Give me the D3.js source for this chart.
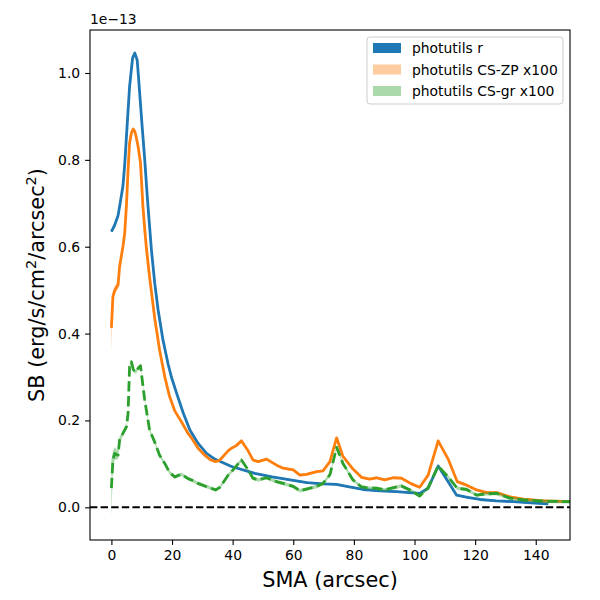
<!DOCTYPE html>
<html>
<head>
<meta charset="utf-8">
<script src="https://cdn.jsdelivr.net/npm/d3@7/dist/d3.min.js"></script>
<style>
  body { margin: 0; background: #fff; }
  svg text { font-family: "DejaVu Sans", sans-serif; fill: #000; }
</style>
</head>
<body>
<div id="chart"></div>
<script>
// photutils r profile (units of 1e-13)
const smaR = [0, 1.1, 2.2, 3.0, 3.8, 4.4, 5.1, 6.0, 7.0, 7.7, 8.5, 9.0, 10.0, 11.0, 11.9, 13.2, 14.3, 15.4, 17.0, 18.7,
  19.8, 21.5, 23.7, 25.9, 28.6, 31.4, 34.1, 39.6, 47.3, 53.0, 59.0, 64.5, 69.8, 74.2, 78.5, 83.0, 88.5, 94.0,
  101.7, 104.5, 107.8, 111.0, 113.9, 117.5, 121.6, 127.0, 132.6, 138.5, 144.1];
const sbR = [0.635, 0.650, 0.672, 0.705, 0.739, 0.790, 0.869, 0.969, 1.035, 1.046, 1.030, 0.985, 0.890, 0.800, 0.709, 0.593, 0.516, 0.455, 0.386, 0.330,
  0.300, 0.263, 0.217, 0.178, 0.147, 0.124, 0.111, 0.094, 0.078, 0.070, 0.063, 0.057, 0.054, 0.053, 0.047, 0.041, 0.038, 0.036,
  0.032, 0.044, 0.095, 0.060, 0.028, 0.023, 0.018, 0.015, 0.013, 0.010, 0.008];
const errR = smaR.map(() => 0.002);

// CS profiles x100
const smaCS = [0, 0.5, 1.1, 2.2, 2.7, 3.8, 4.4, 5.0, 5.5, 6.0, 6.6, 7.2, 7.7, 8.2, 8.8, 9.6, 10.4, 11.0, 11.5, 12.6,
  14.3, 15.9, 17.6, 19.2, 20.9, 23.1, 25.3, 26.4, 28.6, 30.8, 32.5, 34.4, 35.8, 38.5, 39.6, 41.2, 42.9,
  45.1, 46.7, 48.4, 51.2, 54.5, 56.7, 60.0, 62.2, 64.4, 67.7, 69.8, 72.1, 74.3, 76.4, 79.7, 82.5, 85.2, 87.4, 90.2, 92.9,
  95.7, 99.0, 101.7, 104.5, 107.8, 111.1, 114.1, 117.2, 120.5, 123.8, 127.1, 131.5, 135.8, 142.4, 151.3];
const sbZP = [0.413, 0.485, 0.500, 0.512, 0.554, 0.600, 0.632, 0.700, 0.777, 0.839, 0.862, 0.871, 0.866, 0.852, 0.831, 0.793, 0.693, 0.640, 0.600, 0.530,
  0.435, 0.362, 0.301, 0.255, 0.222, 0.197, 0.170, 0.160, 0.136, 0.120, 0.110, 0.105, 0.109, 0.130, 0.136, 0.142, 0.153,
  0.130, 0.109, 0.105, 0.111, 0.097, 0.090, 0.086, 0.074, 0.076, 0.082, 0.084, 0.105, 0.160, 0.117, 0.088, 0.069, 0.065, 0.068, 0.063, 0.068,
  0.067, 0.054, 0.046, 0.074, 0.153, 0.111, 0.059, 0.051, 0.040, 0.034, 0.034, 0.024, 0.019, 0.015, 0.013];
const errZP = [0.056, 0.012, 0.010, 0.008, 0.006, 0.005, 0.004, 0.004, 0.003, 0.003, 0.003, 0.003, 0.003, 0.003, 0.003, 0.003, 0.003, 0.003, 0.003, 0.003,
  0.003, 0.003, 0.003, 0.003, 0.003, 0.003, 0.003, 0.003, 0.003, 0.003, 0.003, 0.003, 0.003, 0.003, 0.003, 0.003, 0.003,
  0.003, 0.003, 0.003, 0.003, 0.003, 0.003, 0.003, 0.003, 0.003, 0.003, 0.003, 0.003, 0.003, 0.003, 0.003, 0.003, 0.003, 0.003, 0.003, 0.003,
  0.003, 0.003, 0.003, 0.003, 0.003, 0.003, 0.003, 0.003, 0.003, 0.003, 0.003, 0.003, 0.003, 0.003, 0.003];
const sbGR = [0.044, 0.109, 0.124, 0.120, 0.155, 0.170, 0.178, 0.186, 0.217, 0.324, 0.335, 0.318, 0.312, 0.312, 0.320, 0.326, 0.280, 0.247, 0.225, 0.178,
  0.150, 0.120, 0.101, 0.080, 0.070, 0.076, 0.066, 0.063, 0.055, 0.049, 0.045, 0.040, 0.046, 0.074, 0.082, 0.095, 0.109,
  0.086, 0.067, 0.063, 0.068, 0.059, 0.055, 0.048, 0.038, 0.042, 0.048, 0.055, 0.075, 0.138, 0.101, 0.063, 0.047, 0.044, 0.044, 0.040, 0.045,
  0.049, 0.038, 0.026, 0.045, 0.095, 0.070, 0.044, 0.041, 0.028, 0.031, 0.032, 0.021, 0.017, 0.014, 0.013];
const errGR = [0.066, 0.020, 0.014, 0.010, 0.008, 0.006, 0.005, 0.005, 0.004, 0.004, 0.004, 0.004, 0.004, 0.004, 0.004, 0.004, 0.004, 0.004, 0.004, 0.004,
  0.004, 0.004, 0.004, 0.004, 0.004, 0.004, 0.004, 0.004, 0.004, 0.004, 0.004, 0.004, 0.004, 0.004, 0.004, 0.004, 0.004,
  0.004, 0.004, 0.004, 0.004, 0.004, 0.004, 0.004, 0.004, 0.004, 0.004, 0.004, 0.004, 0.004, 0.004, 0.004, 0.004, 0.004, 0.004, 0.004, 0.004,
  0.004, 0.004, 0.004, 0.004, 0.004, 0.004, 0.004, 0.004, 0.004, 0.004, 0.004, 0.004, 0.004, 0.004, 0.004];

const xTicks = [0, 20, 40, 60, 80, 100, 120, 140];
const yTicks = [0, 0.2, 0.4, 0.6, 0.8, 1.0];
const legendLabels = ['photutils r', 'photutils CS-ZP x100', 'photutils CS-gr x100'];

const width = 600, height = 600;
const margin = { top: 30, right: 30, bottom: 60, left: 90 };

const svg = d3.select('#chart').append('svg')
  .attr('width', width)
  .attr('height', height);

const x = d3.scaleLinear().domain([-7.06, 151.3]).range([margin.left, width - margin.right]);
const y = d3.scaleLinear().domain([-0.0753, 1.099]).range([height - margin.bottom, margin.top]);

svg.append('clipPath').attr('id', 'clip')
  .append('rect')
  .attr('x', margin.left).attr('y', margin.top)
  .attr('width', width - margin.left - margin.right)
  .attr('height', height - margin.top - margin.bottom);

const plot = svg.append('g').attr('clip-path', 'url(#clip)');

const series = [
  { sma: smaR, val: sbR, err: errR, color: '#1f77b4', bandOpacity: 1, dash: null },
  { sma: smaCS, val: sbZP, err: errZP, color: '#ff7f0e', bandOpacity: 0.4, dash: null },
  { sma: smaCS, val: sbGR, err: errGR, color: '#2ca02c', bandOpacity: 0.4, dash: '10.4,4.5' },
];

const area = d3.area()
  .x(d => x(d[0]))
  .y0(d => y(d[1] - d[2]))
  .y1(d => y(d[1] + d[2]));

const line = d3.line()
  .x(d => x(d[0]))
  .y(d => y(d[1]));

series.forEach(s => {
  const pts = s.sma.map((v, i) => [v, s.val[i], s.err[i]]);
  plot.append('path')
    .attr('d', area(pts))
    .attr('fill', s.color)
    .attr('fill-opacity', s.bandOpacity)
    .attr('stroke', 'none');
  plot.append('path')
    .attr('d', line(pts))
    .attr('fill', 'none')
    .attr('stroke', s.color)
    .attr('stroke-width', 2.8)
    .attr('stroke-linejoin', 'round')
    .attr('stroke-dasharray', s.dash);
});

// zero line
plot.append('line')
  .attr('x1', x(-7.06)).attr('x2', x(151.3))
  .attr('y1', y(0)).attr('y2', y(0))
  .attr('stroke', '#000')
  .attr('stroke-width', 2)
  .attr('stroke-dasharray', '7.4,3.2');

// axes
const xAxis = svg.append('g')
  .attr('transform', `translate(0,${height - margin.bottom})`)
  .call(d3.axisBottom(x).tickValues(xTicks).tickSize(4.9).tickPadding(4.9).tickFormat(d3.format('d')));
const yAxis = svg.append('g')
  .attr('transform', `translate(${margin.left},0)`)
  .call(d3.axisLeft(y).tickValues(yTicks).tickSize(4.9).tickPadding(4.9).tickFormat(d3.format('.1f')));

[xAxis, yAxis].forEach(a => {
  a.selectAll('.domain').remove();
  a.selectAll('line').attr('stroke', '#000').attr('stroke-width', 1.1);
  a.selectAll('text').style('font-size', '13.9px').style('font-family', '"DejaVu Sans", sans-serif');
});

svg.append('rect')
  .attr('x', margin.left).attr('y', margin.top)
  .attr('width', width - margin.left - margin.right)
  .attr('height', height - margin.top - margin.bottom)
  .attr('fill', 'none')
  .attr('stroke', '#000')
  .attr('stroke-width', 1.1);

// offset text
svg.append('text')
  .attr('x', margin.left).attr('y', margin.top - 6)
  .style('font-size', '13.9px')
  .text('1e\u221213');

// axis labels
svg.append('text')
  .attr('x', (margin.left + width - margin.right) / 2)
  .attr('y', 587)
  .attr('text-anchor', 'middle')
  .style('font-size', '20.8px')
  .text('SMA (arcsec)');

const yl = svg.append('text')
  .attr('transform', `translate(44,${(margin.top + height - margin.bottom) / 2}) rotate(-90)`)
  .attr('text-anchor', 'middle')
  .style('font-size', '20.8px');
yl.append('tspan').text('SB (erg/s/cm');
yl.append('tspan').attr('dy', -8).style('font-size', '14.5px').text('2');
yl.append('tspan').attr('dy', 8).text('/arcsec');
yl.append('tspan').attr('dy', -8).style('font-size', '14.5px').text('2');
yl.append('tspan').attr('dy', 8).text(')');

// legend
const lg = svg.append('g').attr('transform', 'translate(367,37)');
lg.append('rect')
  .attr('width', 196).attr('height', 67)
  .attr('rx', 3)
  .attr('fill', '#fff').attr('fill-opacity', 0.8)
  .attr('stroke', '#ccc').attr('stroke-width', 1);
const legendColors = ['#1f77b4', '#ff7f0e', '#2ca02c'];
const legendOpacity = [1, 0.4, 0.4];
legendLabels.forEach((lab, i) => {
  lg.append('rect')
    .attr('x', 6).attr('y', 6 + i * 21.5)
    .attr('width', 28).attr('height', 10)
    .attr('fill', legendColors[i]).attr('fill-opacity', legendOpacity[i]);
  lg.append('text')
    .attr('x', 45).attr('y', 16 + i * 21.5)
    .style('font-size', '13.9px')
    .text(lab);
});
</script>
</body>
</html>
